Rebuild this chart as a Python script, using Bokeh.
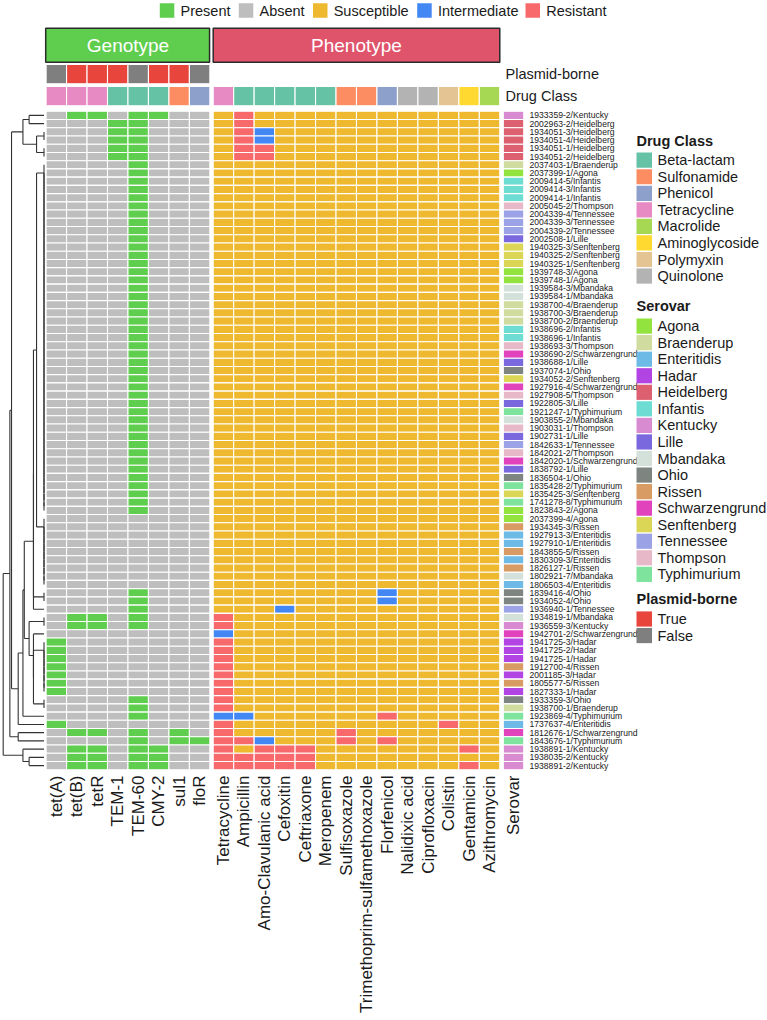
import numpy as np
from bokeh.plotting import figure
from bokeh.models import Range1d
from bokeh.embed import file_html
from bokeh.resources import INLINE
from bokeh.core.properties import value

# ---------------- data ----------------
genes = ["tet(A)", "tet(B)", "tetR", "TEM-1", "TEM-60", "CMY-2", "sul1", "floR"]
gene_plasmid = [False, True, True, True, False, True, True, False]
gene_class = ["Tetracycline", "Tetracycline", "Tetracycline", "Beta-lactam",
              "Beta-lactam", "Beta-lactam", "Sulfonamide", "Phenicol"]

drugs = ["Tetracycline", "Ampicillin", "Amo-Clavulanic acid", "Cefoxitin", "Ceftriaxone",
         "Meropenem", "Sulfisoxazole", "Trimethoprim-sulfamethoxazole", "Florfenicol",
         "Nalidixic acid", "Ciprofloxacin", "Colistin", "Gentamicin", "Azithromycin"]
drug_class = ["Tetracycline", "Beta-lactam", "Beta-lactam", "Beta-lactam", "Beta-lactam",
              "Beta-lactam", "Sulfonamide", "Sulfonamide", "Phenicol", "Quinolone",
              "Quinolone", "Polymyxin", "Aminoglycoside", "Macrolide"]

isolates = [
    "1933359-2/Kentucky", "2002963-2/Heidelberg", "1934051-3/Heidelberg", "1934051-4/Heidelberg",
    "1934051-1/Heidelberg", "1934051-2/Heidelberg", "2037403-1/Braenderup", "2037399-1/Agona",
    "2009414-5/Infantis", "2009414-3/Infantis", "2009414-1/Infantis", "2005045-2/Thompson",
    "2004339-4/Tennessee", "2004339-3/Tennessee", "2004339-2/Tennessee", "2002508-1/Lille",
    "1940325-3/Senftenberg", "1940325-2/Senftenberg", "1940325-1/Senftenberg", "1939748-3/Agona",
    "1939748-1/Agona", "1939584-3/Mbandaka", "1939584-1/Mbandaka", "1938700-4/Braenderup",
    "1938700-3/Braenderup", "1938700-2/Braenderup", "1938696-2/Infantis", "1938696-1/Infantis",
    "1938693-3/Thompson", "1938690-2/Schwarzengrund", "1938688-1/Lille", "1937074-1/Ohio",
    "1934052-2/Senftenberg", "1927916-4/Schwarzengrund", "1927908-5/Thompson", "1922805-3/Lille",
    "1921247-1/Typhimurium", "1903855-2/Mbandaka", "1903031-1/Thompson", "1902731-1/Lille",
    "1842633-1/Tennessee", "1842021-2/Thompson", "1842020-1/Schwarzengrund", "1838792-1/Lille",
    "1836504-1/Ohio", "1835428-2/Typhimurium", "1835425-3/Senftenberg", "1741278-8/Typhimurium",
    "1823843-2/Agona", "2037399-4/Agona", "1934345-3/Rissen", "1927913-3/Enteritidis",
    "1927910-1/Enteritidis", "1843855-5/Rissen", "1830309-3/Enteritidis", "1826127-1/Rissen",
    "1802921-7/Mbandaka", "1806503-4/Enteritidis", "1839416-4/Ohio", "1934052-4/Ohio",
    "1936940-1/Tennessee", "1934819-1/Mbandaka", "1936559-3/Kentucky", "1942701-2/Schwarzengrund",
    "1941725-3/Hadar", "1941725-2/Hadar", "1941725-1/Hadar", "1912700-4/Rissen",
    "2001185-3/Hadar", "1805577-5/Rissen", "1827333-1/Hadar", "1933359-3/Ohio",
    "1938700-1/Braenderup", "1923869-4/Typhimurium", "1737637-4/Enteritidis", "1812676-1/Schwarzengrund",
    "1843676-1/Typhimurium", "1938891-1/Kentucky", "1938035-2/Kentucky", "1938891-2/Kentucky",
]

# gene presence per isolate, in the order of `genes`
genotype = [
    "01101100", "00011000", "00011000", "00011000", "00011000", "00011000",
    "00001000", "00001000", "00001000", "00001000", "00001000", "00001000",
    "00001000", "00001000", "00001000", "00001000", "00001000", "00001000",
    "00001000", "00001000", "00001000", "00001000", "00001000", "00001000",
    "00001000", "00001000", "00001000", "00001000", "00001000", "00001000",
    "00001000", "00001000", "00001000", "00001000", "00001000", "00001000",
    "00001000", "00001000", "00001000", "00001000", "00001000", "00001000",
    "00001000", "00001000", "00001000", "00001000", "00001000", "00001000",
    "00001000", "00000000", "00000000", "00000000", "00000000", "00000000",
    "00000000", "00000000", "00000000", "00000000", "00001000", "00001000",
    "00001000", "01101000", "01101000", "00000000", "10000000", "10000000",
    "10000000", "10000000", "10000000", "10000000", "10000000", "00001000",
    "00001000", "00001000", "10000000", "01101010", "00001011", "01101100",
    "01101100", "01101100",
]

# susceptibility per isolate, in the order of `drugs` (S / I / R)
phenotype = [
    "SRSSSSSSSSSSSS", "SRSSSSSSSSSSSS", "SRISSSSSSSSSSS", "SRISSSSSSSSSSS",
    "SRRSSSSSSSSSSS", "SRRSSSSSSSSSSS", "SSSSSSSSSSSSSS", "SSSSSSSSSSSSSS",
    "SSSSSSSSSSSSSS", "SSSSSSSSSSSSSS", "SSSSSSSSSSSSSS", "SSSSSSSSSSSSSS",
    "SSSSSSSSSSSSSS", "SSSSSSSSSSSSSS", "SSSSSSSSSSSSSS", "SSSSSSSSSSSSSS",
    "SSSSSSSSSSSSSS", "SSSSSSSSSSSSSS", "SSSSSSSSSSSSSS", "SSSSSSSSSSSSSS",
    "SSSSSSSSSSSSSS", "SSSSSSSSSSSSSS", "SSSSSSSSSSSSSS", "SSSSSSSSSSSSSS",
    "SSSSSSSSSSSSSS", "SSSSSSSSSSSSSS", "SSSSSSSSSSSSSS", "SSSSSSSSSSSSSS",
    "SSSSSSSSSSSSSS", "SSSSSSSSSSSSSS", "SSSSSSSSSSSSSS", "SSSSSSSSSSSSSS",
    "SSSSSSSSSSSSSS", "SSSSSSSSSSSSSS", "SSSSSSSSSSSSSS", "SSSSSSSSSSSSSS",
    "SSSSSSSSSSSSSS", "SSSSSSSSSSSSSS", "SSSSSSSSSSSSSS", "SSSSSSSSSSSSSS",
    "SSSSSSSSSSSSSS", "SSSSSSSSSSSSSS", "SSSSSSSSSSSSSS", "SSSSSSSSSSSSSS",
    "SSSSSSSSSSSSSS", "SSSSSSSSSSSSSS", "SSSSSSSSSSSSSS", "SSSSSSSSSSSSSS",
    "SSSSSSSSSSSSSS", "SSSSSSSSSSSSSS", "SSSSSSSSSSSSSS", "SSSSSSSSSSSSSS",
    "SSSSSSSSSSSSSS", "SSSSSSSSSSSSSS", "SSSSSSSSSSSSSS", "SSSSSSSSSSSSSS",
    "SSSSSSSSSSSSSS", "SSSSSSSSSSSSSS", "SSSSSSSSISSSSS", "SSSSSSSSISSSSS",
    "SSSISSSSSSSSSS", "RSSSSSSSSSSSSS", "RSSSSSSSSSSSSS", "ISSSSSSSSSSSSS",
    "RSSSSSSSSSSSSS", "RSSSSSSSSSSSSS", "RSSSSSSSSSSSSS", "RSSSSSSSSSSSSS",
    "RSSSSSSSSSSSSS", "RSSSSSSSSSSSSS", "RSSSSSSSSSSSSS", "RSSSSSSSSSSSSS",
    "RSSSSSSSSSSSSS", "IISSSSSSRSSSSS", "RSSSSSSSSSSRSS", "RSSSSSRSSSSSSS",
    "RRISSSRSRSSSSS", "RSRRRSSSSSSSRS", "RRRRRSSSSSSSSS", "RRRRRSSSSSSSRS",
]

serovar_order = ["Agona", "Braenderup", "Enteritidis", "Hadar", "Heidelberg", "Infantis",
                 "Kentucky", "Lille", "Mbandaka", "Ohio", "Rissen", "Schwarzengrund",
                 "Senftenberg", "Tennessee", "Thompson", "Typhimurium"]
serovar_colors = ["#92E33D", "#CFDB9F", "#6DBAE6", "#B344E4", "#DC6070", "#6DDDD4",
                  "#D98BD2", "#7A68DF", "#D4E0DA", "#7E8581", "#D89B63", "#E043BB",
                  "#DBD655", "#9BA2E6", "#E6B8C8", "#7DE39D"]

class_order = ["Beta-lactam", "Sulfonamide", "Phenicol", "Tetracycline", "Macrolide",
               "Aminoglycoside", "Polymyxin", "Quinolone"]
class_colors = ["#66C2A5", "#FC8D62", "#8DA0CB", "#E78AC3", "#A6D854", "#FFD92F",
                "#E5C494", "#B3B3B3"]

status_labels = ["Present", "Absent", "Susceptible", "Intermediate", "Resistant"]
status_colors = ["#5FCE4E", "#BEBEBE", "#EFB92F", "#4387F5", "#F8696B"]
plasmid_labels = ["True", "False"]
plasmid_colors = ["#E8453C", "#7F7F7F"]

# ---------------- derived lookups ----------------
gene_fill = {"1": status_colors[0], "0": status_colors[1]}
pheno_fill = {"S": status_colors[2], "I": status_colors[3], "R": status_colors[4]}
class_fill = dict(zip(class_order, class_colors))
serovar_fill = dict(zip(serovar_order, serovar_colors))
serovars = [s.split("/")[1] for s in isolates]

# ---------------- layout (page pixels) ----------------
W, H = 767, 1020
FONT = value("Liberation Sans")
TOP, RH = 110.8, 8.23          # first heatmap row, row height
CW = 20.47                     # column pitch
GX0, PX0, SX0 = 45.6, 212.7, 502.8
LEAF_X, ROOT_X = 43.5, 2.7
n = len(isolates)
ng, nd = len(genes), len(drugs)

p = figure(width=W, height=H, x_range=Range1d(0, W), y_range=Range1d(H, 0),
           output_backend="svg", toolbar_location=None, min_border=0,
           x_axis_location=None, y_axis_location=None)
p.grid.visible = False
p.outline_line_color = None
p.background_fill_color = "white"


def cells(x0, ncol, y_tops, hgt, colors):
    L, R, T, B = [], [], [], []
    for yt in y_tops:
        for j in range(ncol):
            L.append(x0 + j * CW)
            R.append(x0 + (j + 1) * CW)
            T.append(yt)
            B.append(yt + hgt)
    p.quad(left=L, right=R, top=T, bottom=B, fill_color=colors,
           line_color="white", line_width=1.1)


row_tops = [TOP + i * RH for i in range(n)]
row_mid = [TOP + (i + 0.5) * RH for i in range(n)]

# genotype / phenotype / serovar blocks
cells(GX0, ng, row_tops, RH, [gene_fill[c] for g in genotype for c in g])
cells(PX0, nd, row_tops, RH, [pheno_fill[c] for ph in phenotype for c in ph])
cells(SX0, 1, row_tops, RH, [serovar_fill[s] for s in serovars])

# column annotations
PLAS_T, DRUG_T, ANN_H = 64.0, 86.0, 19.3
cells(GX0, ng, [PLAS_T], ANN_H, [plasmid_colors[0] if b else plasmid_colors[1] for b in gene_plasmid])
cells(GX0, ng, [DRUG_T], ANN_H, [class_fill[c] for c in gene_class])
cells(PX0, nd, [DRUG_T], ANN_H, [class_fill[c] for c in drug_class])
p.text(x=[505, 505], y=[PLAS_T + ANN_H / 2, DRUG_T + ANN_H / 2],
       text=["Plasmid-borne", "Drug Class"], text_font=FONT, text_font_size="14.5px",
       text_baseline="middle", text_align="left", text_color="#1a1a1a")

# block titles
HB_T, HB_B = 27.7, 61.7
p.quad(left=[GX0 - 0.4, PX0], right=[GX0 + ng * CW - 0.3, PX0 + nd * CW],
       top=[HB_T, HB_T], bottom=[HB_B, HB_B], fill_color=["#5FCE4E", "#DF536B"],
       line_color="#2b2b2b", line_width=1.5)
p.text(x=[GX0 + ng * CW / 2, PX0 + nd * CW / 2], y=[(HB_T + HB_B) / 2] * 2,
       text=["Genotype", "Phenotype"], text_font=FONT, text_font_size="19px",
       text_color="white", text_align="center", text_baseline="middle")

# row labels
p.text(x=[529.0] * n, y=row_mid, text=isolates, text_font=FONT, text_font_size="8.6px",
       text_baseline="middle", text_align="left", text_color="#1a1a1a")

# column labels (rotated)
col_x = ([GX0 + (j + 0.5) * CW for j in range(ng)] + [PX0 + (j + 0.5) * CW for j in range(nd)]
         + [SX0 + 0.5 * CW])
p.text(x=col_x, y=[775.0] * len(col_x), text=genes + drugs + ["Serovar"], angle=np.pi / 2,
       text_font=FONT, text_font_size="17px", text_align="right", text_baseline="middle",
       text_color="#1a1a1a")

# ---------------- row dendrogram (complete linkage, Euclidean) ----------------
level = {"S": 0.0, "I": 1.0, "R": 2.0}
feat = np.array([[float(c) for c in g] + [level[c] for c in ph]
                 for g, ph in zip(genotype, phenotype)])
dist = np.sqrt(((feat[:, None, :] - feat[None, :, :]) ** 2).sum(-1))


def chain(a, b):
    node = b
    for k in range(b - 1, a - 1, -1):
        node = (k, node)
    return node


grp_ab = ((0, 1), ((2, 3), (4, 5)))
grp_efgh = (((chain(6, 48), chain(49, 57)), (58, 59)), 60)
grp_ijkl = ((61, 62), (63, (chain(64, 70), (71, 72))))
grp_w = ((grp_efgh, grp_ijkl), 73)
grp_x = (grp_w, 74)
tree = ((((grp_ab, grp_x)), (75, 76)), (77, (78, 79)))

segs = []


def place(node):
    if isinstance(node, int):
        return row_mid[node], 0.0, [node]
    pa, ha, la = place(node[0])
    pb, hb, lb = place(node[1])
    h = dist[np.ix_(la, lb)].max()
    segs.append((h, pa, h, pb))
    segs.append((h, pa, ha, pa))
    segs.append((h, pb, hb, pb))
    return (pa + pb) / 2, h, la + lb


_, hmax, _ = place(tree)


def hx(h):
    return LEAF_X - h / hmax * (LEAF_X - ROOT_X)


p.segment(x0=[hx(s[0]) for s in segs], y0=[s[1] for s in segs],
          x1=[hx(s[2]) for s in segs], y1=[s[3] for s in segs],
          line_color="#333333", line_width=1.1)

# ---------------- legends ----------------
# status legend along the top
sq_x = [159.3, 238.3, 312.5, 416.7, 525.0]
p.quad(left=sq_x, right=[x + 14.5 for x in sq_x], top=[2.7] * 5, bottom=[17.2] * 5,
       fill_color=status_colors, line_color=None)
p.text(x=[x + 20.7 for x in sq_x], y=[10.2] * 5, text=status_labels, text_font=FONT,
       text_font_size="14.5px", text_baseline="middle", text_align="left", text_color="#1a1a1a")

# stacked legends on the right
LX, PITCH = 636.0, 16.55


def side_legend(title, title_y, first_y, labels, colors):
    ys = [first_y + k * PITCH for k in range(len(labels))]
    p.text(x=[LX], y=[title_y], text=[title], text_font=FONT, text_font_size="14.5px",
           text_font_style="bold", text_baseline="middle", text_align="left",
           text_color="#1a1a1a")
    p.quad(left=[LX] * len(ys), right=[LX + 15.5] * len(ys), top=[y - 7.6 for y in ys],
           bottom=[y + 7.6 for y in ys], fill_color=colors, line_color=None)
    p.text(x=[LX + 21.0] * len(ys), y=ys, text=labels, text_font=FONT,
           text_font_size="14.5px", text_baseline="middle", text_align="left",
           text_color="#1a1a1a")


side_legend("Drug Class", 140.5, 159.7, class_order, class_colors)
side_legend("Serovar", 305.5, 325.6, serovar_order, serovar_colors)
side_legend("Plasmid-borne", 598.5, 618.5, plasmid_labels, plasmid_colors)

open("out.html", "w").write(file_html(p, INLINE))
